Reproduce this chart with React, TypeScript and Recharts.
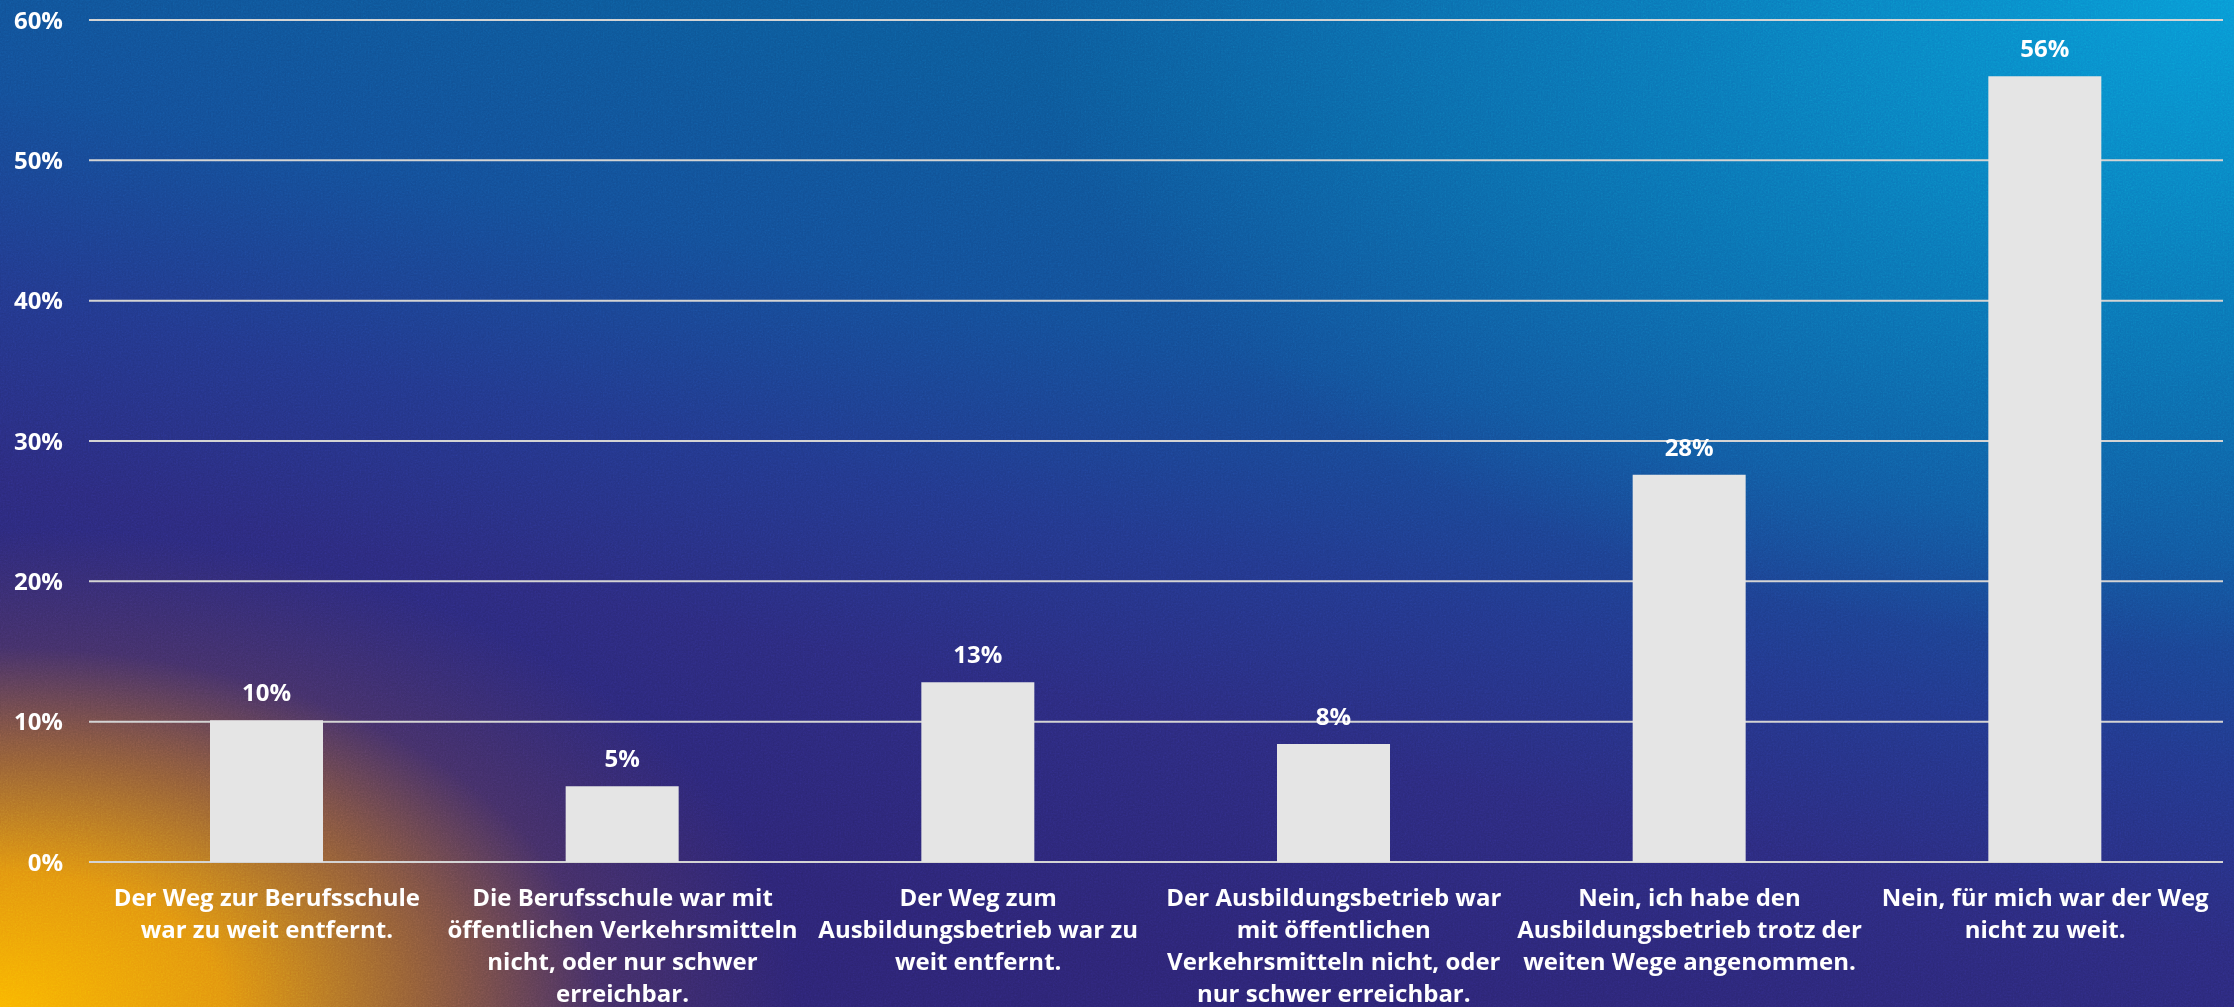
import React from "react";
import { BarChart, Bar, XAxis, YAxis, CartesianGrid, LabelList } from "recharts";

const categories = [
  "Der Weg zur Berufsschule\nwar zu weit entfernt.",
  "Die Berufsschule war mit\nöffentlichen Verkehrsmitteln\nnicht, oder nur schwer\nerreichbar.",
  "Der Weg zum\nAusbildungsbetrieb war zu\nweit entfernt.",
  "Der Ausbildungsbetrieb war\nmit öffentlichen\nVerkehrsmitteln nicht, oder\nnur schwer erreichbar.",
  "Nein, ich habe den\nAusbildungsbetrieb trotz der\nweiten Wege angenommen.",
  "Nein, für mich war der Weg\nnicht zu weit.",
];
const values = [10.1, 5.4, 12.8, 8.4, 27.6, 56.0];
const yTicks = [0, 10, 20, 30, 40, 50, 60];

const data = categories.map((name, i) => ({ name, value: values[i] }));

const FONT = "'Open Sans', 'Noto Sans', sans-serif";

const XTick = (props: any) => {
  const { x, y, payload } = props;
  const lines = String(payload.value).split("\n");
  return (
    <text
      x={x}
      y={y}
      textAnchor="middle"
      fill="#ffffff"
      fontFamily={FONT}
      fontWeight={700}
      fontSize={24}
    >
      {lines.map((l, i) => (
        <tspan key={i} x={x} dy={i === 0 ? 44 : 32}>
          {l}
        </tspan>
      ))}
    </text>
  );
};

export default function App() {
  return (
    <div
      style={{
        position: "absolute",
        left: 0,
        top: 0,
        width: 2234,
        height: 1007,
        overflow: "hidden",
        background:
          "radial-gradient(ellipse 800px 480px at 0% 100%, rgba(250,180,0,1) 0%, rgba(232,152,12,0.97) 28%, rgba(190,118,30,0.7) 52%, rgba(120,70,70,0.3) 75%, rgba(80,45,105,0) 100%)," +
          "radial-gradient(ellipse 1200px 650px at 100% 0%, rgba(8,152,212,1) 0%, rgba(9,135,200,0.65) 45%, rgba(10,110,180,0) 100%)," +
          "linear-gradient(192deg, #0c5fa0 0%, #0c5898 22%, #134d96 38%, #22378a 52%, #2b2a7c 64%, #2c2473 80%, #2c2270 100%)",
      }}
    >
      <svg
        width={2234}
        height={1007}
        style={{ position: "absolute", left: 0, top: 0, opacity: 0.3, mixBlendMode: "overlay" }}
      >
        <filter id="noise">
          <feTurbulence type="fractalNoise" baseFrequency="0.6" numOctaves="2" seed="3" />
          <feColorMatrix type="saturate" values="0" />
        </filter>
        <rect width="100%" height="100%" filter="url(#noise)" />
      </svg>
      <div style={{ position: "absolute", left: 0, top: 0 }}>
        <BarChart
          width={2234}
          height={1007}
          data={data}
          margin={{ top: 20, right: 11, left: 0, bottom: 0 }}
        >
          <CartesianGrid vertical={false} stroke="#d4d4d4" strokeWidth={2} />
          <XAxis
            dataKey="name"
            height={145}
            axisLine={false}
            tickLine={false}
            tickSize={0}
            tickMargin={0}
            interval={0}
            tick={<XTick />}
          />
          <YAxis
            width={89}
            domain={[0, 60]}
            ticks={yTicks}
            axisLine={false}
            tickLine={false}
            tickSize={6}
            tickMargin={20}
            tickFormatter={(v: number) => `${v}%`}
            tick={{ fill: "#ffffff", fontFamily: FONT, fontWeight: 700, fontSize: 24 }}
          />
          <Bar dataKey="value" fill="#e5e5e5" barSize={113} isAnimationActive={false}>
            <LabelList
              dataKey="value"
              position="top"
              offset={19}
              formatter={(v: any) => `${Math.round(Number(v))}%`}
              fill="#ffffff"
              fontFamily={FONT}
              fontWeight={700}
              fontSize={24}
            />
          </Bar>
        </BarChart>
      </div>
    </div>
  );
}
